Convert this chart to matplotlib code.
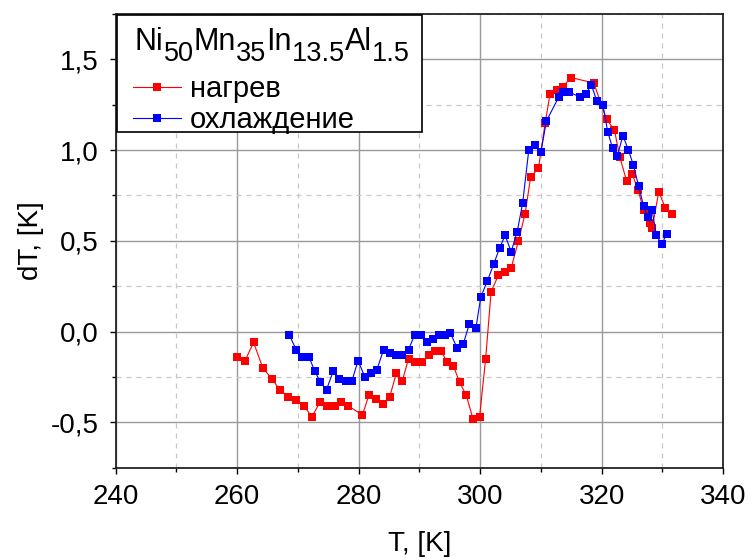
import matplotlib
matplotlib.use("Agg")
import matplotlib.pyplot as plt
from matplotlib.patches import Rectangle
from matplotlib.ticker import MultipleLocator, FuncFormatter

plt.rcParams['font.family'] = ['Liberation Sans', 'DejaVu Sans']

# heating (нагрев)
heat_t = [260.0, 261.3, 262.7, 264.2, 265.7, 267.0, 268.4, 269.7, 271.0, 272.3,
          273.6, 274.8, 276.1, 277.1, 278.3, 280.6, 281.7, 282.9, 284.0, 285.1,
          286.2, 287.2, 288.2, 289.3, 290.4, 291.5, 292.5, 293.6, 294.6, 295.6,
          296.6, 297.7, 298.8, 299.9, 300.9, 301.8, 303.0, 304.1, 305.1, 306.3,
          307.4, 308.3, 309.6, 310.7, 311.5, 312.7, 313.7, 314.9, 318.7, 320.8,
          322.1, 323.0, 324.1, 325.0, 326.0, 326.9, 328.0, 328.3, 329.4, 330.5,
          331.6]
heat_dt = [-0.14, -0.16, -0.06, -0.20, -0.26, -0.32, -0.36, -0.38, -0.41, -0.47,
           -0.39, -0.41, -0.41, -0.39, -0.41, -0.46, -0.35, -0.37, -0.40, -0.36,
           -0.23, -0.27, -0.15, -0.17, -0.17, -0.13, -0.11, -0.11, -0.17, -0.19,
           -0.28, -0.35, -0.48, -0.47, -0.15, 0.22, 0.31, 0.33, 0.35, 0.50,
           0.65, 0.85, 0.90, 1.15, 1.31, 1.33, 1.35, 1.40, 1.37, 1.17,
           1.11, 0.96, 0.83, 0.87, 0.78, 0.67, 0.60, 0.57, 0.77, 0.68,
           0.65]

# cooling (охлаждение)
cool_t = [268.6, 269.7, 270.7, 271.8, 272.8, 273.7, 274.7, 275.8, 276.8, 277.9,
          278.9, 279.9, 281.0, 282.0, 283.0, 284.1, 285.2, 286.2, 287.2, 288.2,
          289.2, 290.3, 291.3, 292.3, 293.3, 294.2, 295.1, 296.2, 297.2, 298.2,
          299.3, 300.1, 301.2, 302.2, 303.2, 304.1, 305.1, 306.1, 307.0, 308.0,
          309.0, 310.0, 310.9, 312.9, 313.7, 314.7, 316.5, 317.4, 318.3, 319.2,
          320.2, 321.0, 321.8, 322.6, 323.5, 324.4, 325.2, 326.1, 326.9, 327.6,
          328.3, 329.0, 329.9, 330.7]
cool_dt = [-0.02, -0.10, -0.14, -0.14, -0.22, -0.28, -0.32, -0.22, -0.26, -0.27,
           -0.27, -0.16, -0.25, -0.23, -0.21, -0.10, -0.12, -0.13, -0.13, -0.10,
           -0.02, -0.02, -0.06, -0.04, -0.02, -0.02, -0.01, -0.09, -0.07, 0.04,
           0.02, 0.19, 0.28, 0.37, 0.46, 0.53, 0.44, 0.55, 0.71, 1.00,
           1.03, 0.99, 1.16, 1.29, 1.32, 1.32, 1.29, 1.31, 1.36, 1.27,
           1.25, 1.10, 1.01, 0.97, 1.08, 1.00, 0.92, 0.80, 0.69, 0.63,
           0.67, 0.53, 0.48, 0.54]

# alloy formula for the legend title: (text, is_subscript)
formula = [('Ni', False), ('50', True), ('Mn', False), ('35', True),
           ('In', False), ('13.5', True), ('Al', False), ('1.5', True)]

fig = plt.figure(figsize=(7.49, 5.6), dpi=100)
ax = fig.add_axes([0.1545, 0.165, 0.811, 0.810])

ax.plot(heat_t, heat_dt, color='#ff0000', marker='s', markersize=5.3, lw=0.8,
        markeredgewidth=0, label='нагрев')
ax.plot(cool_t, cool_dt, color='#0000ff', marker='s', markersize=5.3, lw=0.8,
        markeredgewidth=0, label='охлаждение')

ax.set_xlim(240, 340)
ax.set_ylim(-0.75, 1.75)
ax.xaxis.set_major_locator(MultipleLocator(20))
ax.xaxis.set_minor_locator(MultipleLocator(10))
ax.yaxis.set_major_locator(MultipleLocator(0.5))
ax.yaxis.set_minor_locator(MultipleLocator(0.25))
ax.yaxis.set_major_formatter(FuncFormatter(lambda v, p: f"{v:.1f}".replace('.', ',')))

ax.grid(which='major', color='#999999', lw=1.0, ls='-')
ax.grid(which='minor', color='#c8c8c8', lw=0.9, ls=(0, (4, 4)))
ax.set_axisbelow(True)

ax.tick_params(which='major', direction='out', length=4, width=1.0, labelsize=20, pad=8)
ax.tick_params(which='minor', direction='out', length=3, width=1.0)
for s in ['left', 'bottom', 'top', 'right']:
    ax.spines[s].set_linewidth(1.3)
    ax.spines[s].set_color('#222222')

ax.set_xlabel('T, [K]', fontsize=20, labelpad=15)
ax.set_ylabel('dT, [K]', fontsize=20, labelpad=5)

# legend box with the formula on top
box = Rectangle((0.002, 0.739), 0.502, 0.259, transform=ax.transAxes,
                facecolor='white', edgecolor='black', lw=1.2, zorder=4,
                clip_on=False)
ax.add_patch(box)

leg = ax.legend(loc='upper left', bbox_to_anchor=(0.0285, 0.866), fontsize=21,
                frameon=False, borderpad=0, borderaxespad=0,
                handlelength=1.65, handletextpad=0.3, labelspacing=0.12)
leg.set_zorder(5)

prev = None
for txt, sub in formula:
    size = 19.5 if sub else 22
    if prev is None:
        t = ax.annotate(txt, xy=(0, 1), xycoords=box, xytext=(13, -9),
                        textcoords='offset points', fontsize=size,
                        ha='left', va='top', zorder=6)
    else:
        dy = -7 if sub else 7
        t = ax.annotate(txt, xy=(1, 0), xycoords=prev, xytext=(0, dy),
                        textcoords='offset points', fontsize=size,
                        ha='left', va='bottom', zorder=6)
    prev = t

fig.savefig('out.png', dpi=100)
